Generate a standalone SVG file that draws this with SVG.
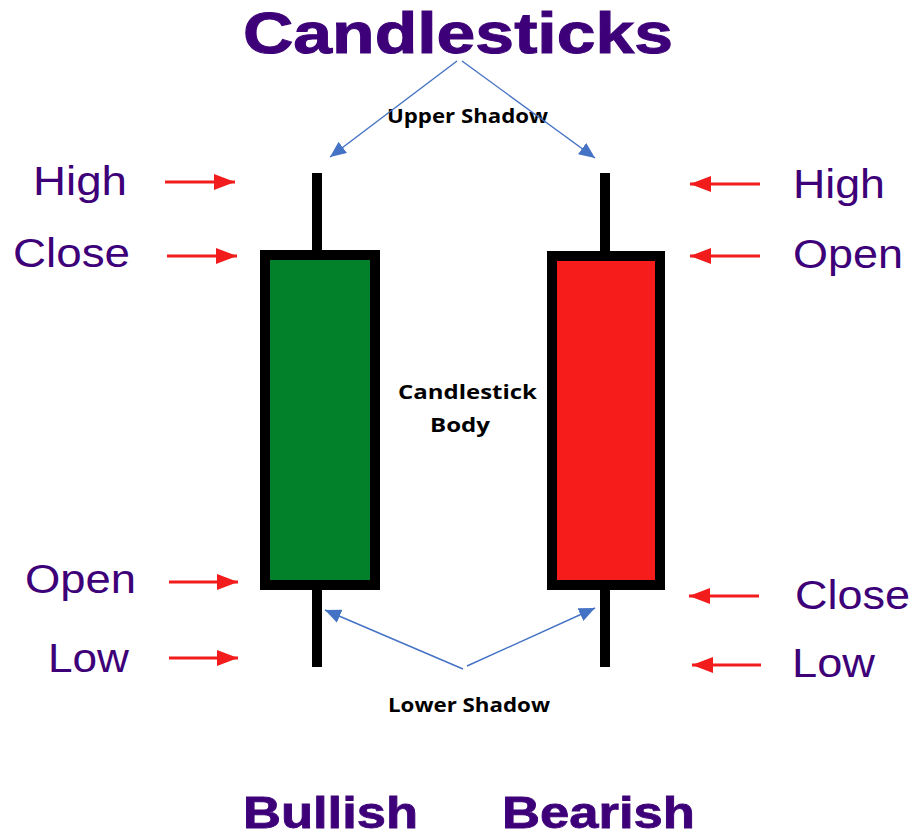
<svg xmlns="http://www.w3.org/2000/svg" width="917" height="839" viewBox="0 0 917 839">
<defs>
<style>
.lbl{font-family:"Liberation Sans",Arial,sans-serif;font-size:40px;fill:#3d0078}
.ttl{font-family:"Liberation Sans",Arial,sans-serif;font-weight:bold;fill:#3d0078}
.note{font-family:"Open Sans","Liberation Sans",sans-serif;font-weight:bold;font-size:20px;fill:#000}
.red{stroke:#f21c1c;stroke-width:3;fill:none}
.blue{stroke:#4472c4;stroke-width:1.4;fill:none}
.box{stroke:#000;stroke-width:10}
.wick{stroke:#000;stroke-width:10}
</style>
<marker id="rh" markerUnits="userSpaceOnUse" markerWidth="22" markerHeight="16" refX="21" refY="8" orient="auto">
<path d="M0,0 L21,8 L0,16 Z" fill="#f21c1c"/>
</marker>
<marker id="bh" markerUnits="userSpaceOnUse" markerWidth="17" markerHeight="14" refX="16" refY="7" orient="auto">
<path d="M0,0 L16,7 L0,14 Z" fill="#4472c4"/>
</marker>
</defs>
<rect width="917" height="839" fill="#fff"/>
<text class="ttl" x="243" y="53" font-size="57" stroke="#3d0078" stroke-width="1" textLength="430" lengthAdjust="spacingAndGlyphs">Candlesticks</text>
<g id="bullish">
<line class="wick" x1="317" y1="173" x2="317" y2="667"/>
<rect class="box" x="265" y="255" width="110" height="330" fill="#03802a"/>
</g>
<g id="bearish">
<line class="wick" x1="605" y1="173" x2="605" y2="667"/>
<rect class="box" x="552" y="256" width="108" height="329" fill="#f71c1c"/>
</g>
<g id="labels-left">
<text class="lbl" x="33" y="195" textLength="94" lengthAdjust="spacingAndGlyphs">High</text>
<text class="lbl" x="13" y="267" textLength="117" lengthAdjust="spacingAndGlyphs">Close</text>
<text class="lbl" x="25" y="593" textLength="111" lengthAdjust="spacingAndGlyphs">Open</text>
<text class="lbl" x="48" y="672" textLength="81" lengthAdjust="spacingAndGlyphs">Low</text>
</g>
<g id="labels-right">
<text class="lbl" x="793" y="198" textLength="92" lengthAdjust="spacingAndGlyphs">High</text>
<text class="lbl" x="793" y="268" textLength="110" lengthAdjust="spacingAndGlyphs">Open</text>
<text class="lbl" x="795" y="609" textLength="115" lengthAdjust="spacingAndGlyphs">Close</text>
<text class="lbl" x="792" y="677" textLength="83" lengthAdjust="spacingAndGlyphs">Low</text>
</g>
<g id="notes">
<text class="note" x="387" y="123" textLength="161" lengthAdjust="spacingAndGlyphs">Upper Shadow</text>
<text class="note" x="398" y="399" textLength="139" lengthAdjust="spacingAndGlyphs">Candlestick</text>
<text class="note" x="430" y="432" textLength="60" lengthAdjust="spacingAndGlyphs">Body</text>
<text class="note" x="388" y="712" textLength="162" lengthAdjust="spacingAndGlyphs">Lower Shadow</text>
</g>
<g id="footer">
<text class="ttl" x="243" y="828" font-size="44" stroke="#3d0078" stroke-width="0.8" textLength="175" lengthAdjust="spacingAndGlyphs">Bullish</text>
<text class="ttl" x="502" y="828" font-size="44" stroke="#3d0078" stroke-width="0.8" textLength="193" lengthAdjust="spacingAndGlyphs">Bearish</text>
</g>
<g id="connectors">
<line class="red" x1="165" y1="182" x2="235" y2="182" marker-end="url(#rh)"/>
<line class="red" x1="167" y1="256" x2="237" y2="256" marker-end="url(#rh)"/>
<line class="red" x1="169" y1="582" x2="238" y2="582" marker-end="url(#rh)"/>
<line class="red" x1="169" y1="658" x2="238" y2="658" marker-end="url(#rh)"/>
<line class="red" x1="760" y1="184" x2="690" y2="184" marker-end="url(#rh)"/>
<line class="red" x1="760" y1="256" x2="690" y2="256" marker-end="url(#rh)"/>
<line class="red" x1="759" y1="596" x2="689" y2="596" marker-end="url(#rh)"/>
<line class="red" x1="761" y1="665" x2="692" y2="665" marker-end="url(#rh)"/>
<line class="blue" x1="457" y1="61" x2="330" y2="157" marker-end="url(#bh)"/>
<line class="blue" x1="462" y1="61" x2="595" y2="158" marker-end="url(#bh)"/>
<line class="blue" x1="463" y1="669" x2="325" y2="610" marker-end="url(#bh)"/>
<line class="blue" x1="467" y1="666" x2="595" y2="608" marker-end="url(#bh)"/>
</g>
</svg>
